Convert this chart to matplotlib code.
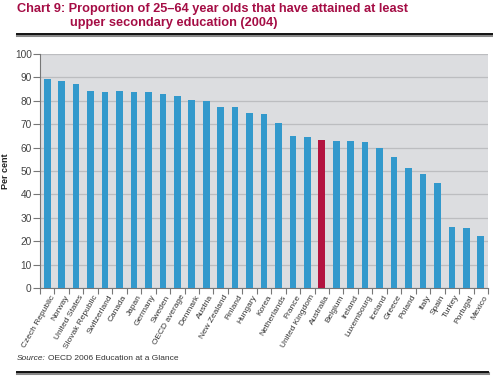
import matplotlib.pyplot as plt
from matplotlib.lines import Line2D

countries = ['Czech Republic', 'Norway', 'United States', 'Slovak Republic', 'Switzerland',
             'Canada', 'Japan', 'Germany', 'Sweden', 'OECD average', 'Denmark', 'Austria',
             'New Zealand', 'Finland', 'Hungary', 'Korea', 'Netherlands', 'France',
             'United Kingdom', 'Australia', 'Belgium', 'Ireland', 'Luxembourg', 'Iceland',
             'Greece', 'Poland', 'Italy', 'Spain', 'Turkey', 'Portugal', 'Mexico']
values = [89.2, 88.3, 87.3, 84.4, 83.9, 84.0, 83.6, 83.6, 83.0, 81.9, 80.3, 80.1,
          77.5, 77.2, 74.9, 74.4, 70.5, 64.8, 64.4, 63.2, 62.9, 62.7, 62.5, 60.0,
          56.1, 51.1, 48.6, 44.9, 25.9, 25.5, 22.4]
highlight = 'Australia'

blue = '#3399cc'
red = '#b3133f'
colors = [red if c == highlight else blue for c in countries]

plt.rcParams['font.family'] = ['Liberation Sans', 'DejaVu Sans']
fig = plt.figure(figsize=(4.93, 3.78), dpi=100)

W, H = 493, 378
ax = fig.add_axes([40 / W, 1 - 288 / H, 448 / W, 234 / H])
ax.set_facecolor('#dcdde0')

x = range(len(countries))
ax.bar(x, values, width=0.46, color=colors, zorder=3)

ax.set_xlim(-0.47, len(countries) - 0.52)
ax.set_ylim(0, 100)
ax.set_yticks(range(0, 101, 10))
ax.yaxis.grid(True, color='#bcbdc0', linewidth=0.9, zorder=1)
ax.tick_params(axis='y', length=5, width=0.8, color='#777777', labelsize=7.3, pad=1,
               labelcolor='#444444')

ax.set_xticks([i - 0.5 for i in range(len(countries))] + [len(countries) - 0.5])
ax.set_xticklabels([])
ax.tick_params(axis='x', length=4, width=0.8, color='#777777')
for i, c in enumerate(countries):
    ax.text(i + 0.2, -2.5, c, rotation=60, ha='right', va='top', fontsize=6,
            color='#333333', rotation_mode='anchor')

for s in ['top', 'right']:
    ax.spines[s].set_visible(False)
ax.spines['left'].set_color('#777777')
ax.spines['bottom'].set_color('#777777')

ax.set_ylabel('Per cent', fontsize=6.5, fontweight='bold', color='#222222')
ax.yaxis.set_label_coords(-30 / 448, 0.5)

title_color = '#a50d45'
fig.text(17 / W, 1 - 3 / H, 'Chart 9: Proportion of 25\u201364 year olds that have attained at least',
         fontsize=9.2, fontweight='bold', color=title_color, va='top')
fig.text(70 / W, 1 - 17 / H, 'upper secondary education (2004)',
         fontsize=9.2, fontweight='bold', color=title_color, va='top')

fig.add_artist(Line2D([17 / W, 1], [1 - 35 / H] * 2, color='#888888', linewidth=2.2))
fig.add_artist(Line2D([17 / W, 1], [1 - 34 / H] * 2, color='#111111', linewidth=1.4))
fig.add_artist(Line2D([17 / W, 488 / W], [1 - 373 / H] * 2, color='#888888', linewidth=2.2))
fig.add_artist(Line2D([17 / W, 488 / W], [1 - 372 / H] * 2, color='#111111', linewidth=1.4))

src = fig.text(17 / W, 1 - 358 / H, 'Source:', fontsize=6, style='italic',
               color='#333333', va='center')
fig.canvas.draw()
bb = src.get_window_extent()
fig.text(bb.x1 / W + 2 / W, 1 - 358 / H, 'OECD 2006 Education at a Glance', fontsize=6,
         color='#333333', va='center')

fig.savefig('out.png', dpi=100)
